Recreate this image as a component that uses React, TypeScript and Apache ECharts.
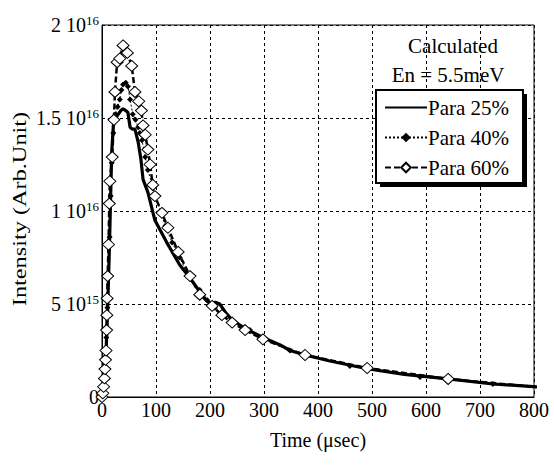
import React, { useEffect, useRef } from "react";
import * as echarts from "echarts";

// Tick labels (y in units of 1e15)
const yTickMantissa = ["0", "5", "1", "1.5", "2"];
const yTickExponent = ["", "15", "16", "16", "16"];

// Para 25% (solid)
const p25X = [0, 2, 4, 6, 8, 10, 12, 14, 16, 18, 21, 25, 30, 35, 39, 44, 48, 52, 56, 61, 67, 72, 76, 85, 98, 120, 144, 163, 185, 200, 210, 218, 230, 243, 270, 298, 330, 348, 376, 420, 491, 560, 641, 724, 830];
const p25Y = [0, 0.2, 0.8, 1.8, 2.8, 4.3, 6.3, 8.3, 10.8, 13.2, 14.6, 15.0, 15.2, 15.4, 15.5, 15.4, 15.3, 14.5, 14.4, 14.4, 13.7, 12.8, 11.7, 11.0, 9.5, 8.3, 7.1, 6.4, 5.5, 5.0, 5.1, 5.0, 4.5, 4.1, 3.6, 3.2, 2.8, 2.5, 2.26, 1.95, 1.52, 1.22, 0.97, 0.70, 0.50];

// Para 40% (dotted, filled diamonds)
const p40X = [0, 2, 4, 6, 8, 10, 12, 14, 16, 18, 21, 25, 29, 33, 36, 39, 44, 48, 52, 57, 62, 67, 70, 74, 80, 85, 92, 98, 108, 117, 130, 144, 160, 181, 195, 209, 240, 274, 348, 459, 589, 724, 900];
const p40Y = [0, 0.3, 1.0, 2.0, 3.2, 4.8, 6.6, 8.6, 10.8, 12.6, 14.2, 15.2, 15.6, 16.0, 16.5, 16.8, 16.9, 16.7, 16.0, 15.2, 14.9, 14.5, 14.2, 13.8, 12.9, 12.2, 11.5, 10.9, 10.0, 9.2, 8.3, 7.5, 6.5, 5.75, 5.2, 4.8, 4.1, 3.6, 2.5, 1.67, 1.08, 0.70, 0.42];

// Para 60% (dashed, open diamonds)
const p60X = [0, 1.5, 3, 4.5, 5.5, 6.5, 7.5, 8.5, 9, 9.5, 10.5, 12, 13.5, 14.5, 19, 22, 24, 28, 33, 39, 47, 55, 61, 68, 73, 76, 80, 85, 89, 94, 98, 111, 122, 141, 163, 181, 204, 222, 241, 265, 298, 376, 491, 641, 837];
const p60Y = [0, 0.2, 0.55, 1.0, 1.5, 2.0, 2.5, 3.6, 4.4, 5.3, 6.5, 8.2, 10.4, 11.6, 12.9, 14.9, 16.4, 18.0, 18.2, 18.9, 18.5, 17.8, 16.4, 15.9, 15.4, 14.6, 14.1, 13.3, 12.5, 11.4, 10.8, 9.9, 9.1, 7.8, 6.5, 5.5, 4.9, 4.4, 4.0, 3.6, 3.1, 2.26, 1.56, 0.97, 0.45];

const FONT = "Liberation Serif";

const zip = (xs: number[], ys: number[]) => xs.map((x, i) => [x, ys[i]]);

export default function App() {
  const ref = useRef<HTMLDivElement>(null);
  useEffect(() => {
    if (!ref.current) return;
    document.body.style.margin = "0";
    const chart = echarts.init(ref.current, null, { renderer: "svg" });
    chart.setOption({
      animation: false,
      backgroundColor: "#fff",
      textStyle: { fontFamily: FONT, color: "#000" },
      grid: { left: 102, right: 20, top: 25, bottom: 73, show: true, borderColor: "#000", borderWidth: 1, backgroundColor: "transparent" },
      xAxis: {
        type: "value",
        min: 0,
        max: 800,
        interval: 100,
        name: "Time (μsec)",
        nameLocation: "middle",
        nameGap: 33,
        nameTextStyle: { fontSize: 20, fontFamily: FONT, color: "#000" },
        axisLine: { show: true, lineStyle: { color: "#000", width: 1 } },
        axisTick: { show: false },
        axisLabel: { fontSize: 20, fontFamily: FONT, color: "#000", margin: 3 },
        splitLine: { show: true, lineStyle: { color: "#000", width: 1, type: [3, 3] } },
      },
      yAxis: {
        type: "value",
        min: 0,
        max: 20,
        interval: 5,
        axisLine: { show: true, lineStyle: { color: "#000", width: 1 } },
        axisTick: { show: false },
        axisLabel: {
          margin: 3,
          color: "#000",
          fontFamily: FONT,
          formatter: (v: number) => {
            const i = Math.round(v / 5);
            const m = yTickMantissa[i];
            const e = yTickExponent[i];
            return e ? `{a|${m} 10}{b|${e}}` : `{a|${m}}`;
          },
          rich: {
            a: { fontSize: 20, fontFamily: FONT, color: "#000" },
            b: { fontSize: 13, fontFamily: FONT, color: "#000", padding: [0, 0, 10, 0] },
          },
        },
        splitLine: { show: true, lineStyle: { color: "#000", width: 1, type: [3, 3] } },
      },
      legend: {
        orient: "vertical",
        left: 384,
        top: 97,
        padding: 0,
        itemWidth: 42,
        itemHeight: 12,
        itemGap: 9,
        z: 10,
        textStyle: { fontSize: 21, fontFamily: FONT, color: "#000", padding: [0, 0, 0, -4] },
        data: [
          { name: "Para 25%", itemStyle: { opacity: 0 } },
          { name: "Para 40%" },
          { name: "Para 60%" },
        ],
      },
      graphic: [
        { type: "rect", z: 3, shape: { x: 380, y: 94, width: 147, height: 93 }, style: { fill: "#000" } },
        { type: "rect", z: 4, shape: { x: 376, y: 90, width: 147, height: 93 }, style: { fill: "#fff", stroke: "#000", lineWidth: 2 } },
        { type: "text", z: 4, x: 453, y: 46, style: { text: "Calculated", fontSize: 21, fontFamily: FONT, fill: "#000", align: "center", verticalAlign: "middle" } },
        { type: "text", z: 4, x: 448, y: 75, style: { text: "En = 5.5meV", fontSize: 21, fontFamily: FONT, fill: "#000", align: "center", verticalAlign: "middle" } },
        { type: "text", z: 4, x: 20, y: 209, rotation: Math.PI / 2, scaleX: 1.35, style: { text: "Intensity (Arb.Unit)", fontSize: 18, fontFamily: FONT, fill: "#000", align: "center", verticalAlign: "middle" } },
      ],
      series: [
        {
          name: "Para 25%",
          type: "line",
          data: zip(p25X, p25Y),
          symbol: "none",
          itemStyle: { color: "#000" },
          lineStyle: { color: "#000", width: 3.2, type: "solid" },
        },
        {
          name: "Para 40%",
          type: "line",
          data: zip(p40X, p40Y),
          symbol: "diamond",
          symbolSize: 6,
          showAllSymbol: true,
          itemStyle: { color: "#000" },
          lineStyle: { color: "#000", width: 1, type: [2, 2] },
        },
        {
          name: "Para 60%",
          type: "line",
          data: zip(p60X, p60Y),
          symbol: "diamond",
          symbolSize: [12, 11],
          showAllSymbol: true,
          itemStyle: { color: "#fff", borderColor: "#000", borderWidth: 1 },
          lineStyle: { color: "#000", width: 2.5, type: [6, 3] },
        },
      ],
    });
    return () => chart.dispose();
  }, []);
  return <div ref={ref} style={{ width: 554, height: 470 }} />;
}
